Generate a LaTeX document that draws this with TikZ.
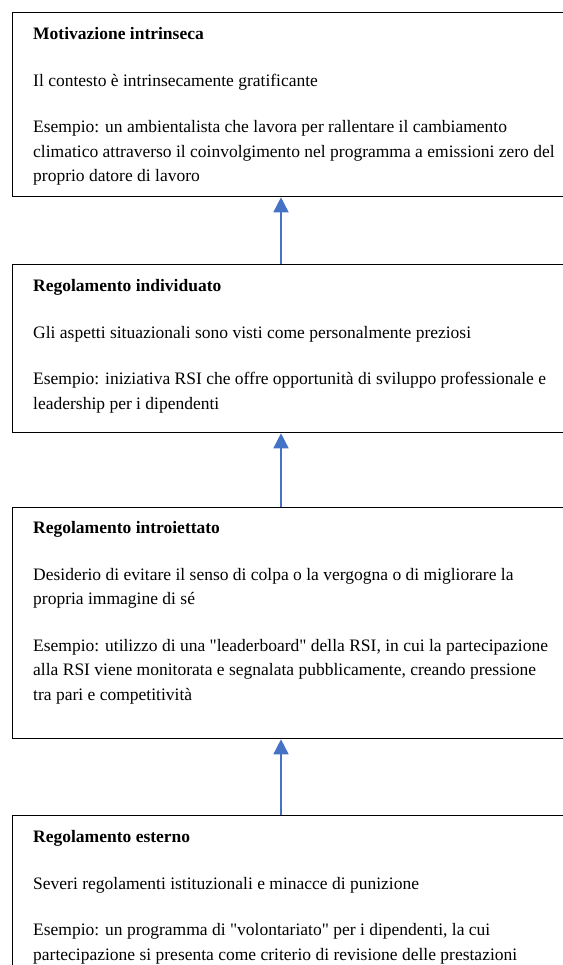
\documentclass[tikz,border=0pt]{standalone}
\usepackage{fontspec}
\setmainfont{Liberation Serif}
\usetikzlibrary{arrows.meta,positioning}
\definecolor{flowblue}{RGB}{68,114,196}
\begin{document}
\begin{tikzpicture}[x=1pt,y=1pt,
  box/.style={draw=black,line width=1.3pt,minimum width=620pt,anchor=north west,inner sep=0pt},
  txt/.style={anchor=north west,align=left,inner sep=0pt,font=\fontsize{17.5}{24.5}\selectfont},
  flow/.style={draw=flowblue,line width=1.6pt,-{Triangle[width=15pt,length=15pt]}}]
\useasboundingbox (0,0) rectangle (562,-965);
% boxes
\node[box,minimum height=184pt] (motiv) at (12,-12) {};
\node[box,minimum height=168pt] (individ) at (12,-264) {};
\node[box,minimum height=231pt] (introj) at (12,-507) {};
\node[box,minimum height=200pt] (esterno) at (12,-815) {};
% texts
\node[txt] (motivtxt) at ([shift={(21,-15.5)}]motiv.north west) {\textbf{Motivazione intrinseca}\\[22pt]
Il contesto è intrinsecamente gratificante\\[22pt]
Esempio: un ambientalista che lavora per rallentare il cambiamento\\
climatico attraverso il coinvolgimento nel programma a emissioni zero del\\
proprio datore di lavoro};
\node[txt] (individtxt) at ([shift={(21,-15.5)}]individ.north west) {\textbf{Regolamento individuato}\\[22pt]
Gli aspetti situazionali sono visti come personalmente preziosi\\[22pt]
Esempio: iniziativa RSI che offre opportunità di sviluppo professionale e\\
leadership per i dipendenti};
\node[txt] (introjtxt) at ([shift={(21,-14.5)}]introj.north west) {\textbf{Regolamento introiettato}\\[22pt]
Desiderio di evitare il senso di colpa o la vergogna o di migliorare la\\
propria immagine di sé\\[22pt]
Esempio: utilizzo di una \textquotedbl leaderboard\textquotedbl{} della RSI, in cui la partecipazione\\
alla RSI viene monitorata e segnalata pubblicamente, creando pressione\\
tra pari e competitività};
\node[txt] (esternotxt) at ([shift={(21,-15.5)}]esterno.north west) {\textbf{Regolamento esterno}\\[22pt]
Severi regolamenti istituzionali e minacce di punizione\\[22pt]
Esempio: un programma di \textquotedbl volontariato\textquotedbl{} per i dipendenti, la cui\\
partecipazione si presenta come criterio di revisione delle prestazioni};
% arrows
\coordinate (axis) at (281,0);
\draw[flow] (individ.north -| axis) -- (motiv.south -| axis);
\draw[flow] (introj.north -| axis) -- (individ.south -| axis);
\draw[flow] (esterno.north -| axis) -- (introj.south -| axis);
\end{tikzpicture}
\end{document}
